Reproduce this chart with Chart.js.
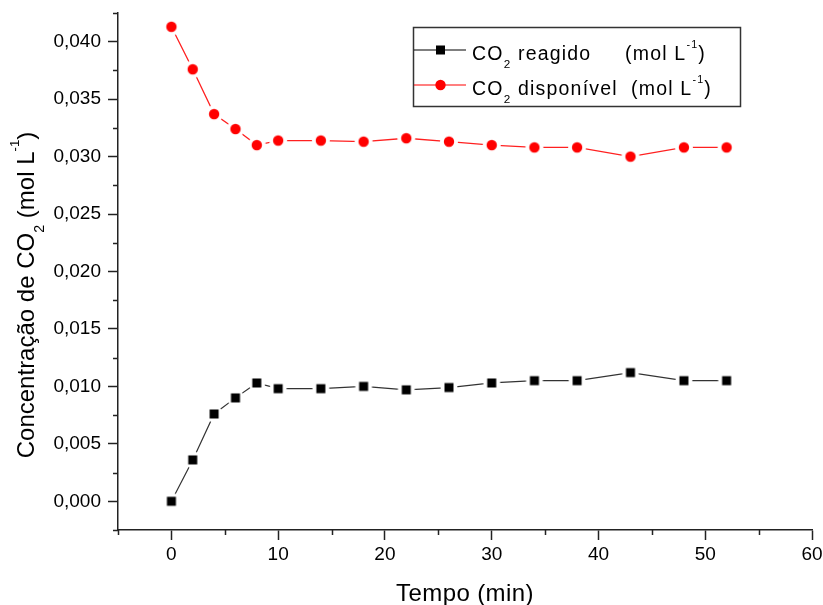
<!DOCTYPE html>
<html>
<head>
<meta charset="utf-8">
<script src="https://cdn.jsdelivr.net/npm/chart.js@4.4.1/dist/chart.umd.min.js"></script>
<style>
  body { margin: 0; background: #fff; }
  #chartBox { width: 823px; height: 605px; }
</style>
</head>
<body>
<div id="chartBox"><canvas id="myChart" width="823" height="605"></canvas></div>
<script>
// data
const tempo = [0, 2, 4, 6, 8, 10, 14, 18, 22, 26, 30, 34, 38, 43, 48, 52];
const co2Reagido = [0.0000, 0.0036, 0.0076, 0.0090, 0.0103, 0.0098, 0.0098, 0.0100, 0.0097, 0.0099, 0.0103, 0.0105, 0.0105, 0.0112, 0.0105, 0.0105];
const co2Disponivel = [0.0413, 0.0376, 0.0337, 0.0324, 0.0310, 0.0314, 0.0314, 0.0313, 0.0316, 0.0313, 0.0310, 0.0308, 0.0308, 0.0300, 0.0308, 0.0308];

const xTicks = [0, 10, 20, 30, 40, 50, 60];
const xMinorTicks = [-5, 5, 15, 25, 35, 45, 55];
const yTicks = [0, 0.005, 0.010, 0.015, 0.020, 0.025, 0.030, 0.035, 0.040];
const yMinorTicks = [-0.0025, 0.0025, 0.0075, 0.0125, 0.0175, 0.0225, 0.0275, 0.0325, 0.0375, 0.0425];

const FONT = "'Liberation Sans', Arial, sans-serif";
const AXIS = '#222';

// marker with a white halo so the line stops short of it
const makeMarker = (shape, color, halo) => {
    const c = document.createElement('canvas');
    c.width = 20; c.height = 20;
    const ctx = c.getContext('2d');
    ctx.fillStyle = '#fff';
    ctx.beginPath(); ctx.arc(10, 10, halo, 0, Math.PI * 2); ctx.fill();
    ctx.fillStyle = color;
    if (shape === 'square') {
        ctx.fillRect(5.5, 5.5, 9, 9);
    } else {
        ctx.beginPath(); ctx.arc(10, 10, 5.2, 0, Math.PI * 2); ctx.fill();
    }
    return c;
}

const squareMark = makeMarker('square', '#000', 8.5);
const circleMark = makeMarker('circle', '#ff0000', 9);

const richWidth = (ctx, parts, size) => {
    let w = 0;
    parts.forEach(p => {
        const fs = p.sub ? size * 0.6 : p.sup ? size * 0.55 : size;
        ctx.font = fs + 'px ' + FONT;
        w += ctx.measureText(p.t).width;
    });
    return w;
}

const drawRich = (ctx, parts, x, y, size) => {
    parts.forEach(p => {
        let fs = size, dy = 0;
        if (p.sub) { fs = size * 0.6; dy = size * 0.42; }
        if (p.sup) { fs = size * 0.55; dy = -size * 0.62; }
        ctx.font = fs + 'px ' + FONT;
        ctx.fillText(p.t, x, y + dy);
        x += ctx.measureText(p.t).width;
    });
    return x;
}

const extras = {
    id: 'extras',
    afterDraw(chart) {
        const ctx = chart.ctx;
        const xs = chart.scales.x, ys = chart.scales.y;
        const area = chart.chartArea;
        ctx.save();

        // minor ticks
        ctx.strokeStyle = AXIS;
        ctx.lineWidth = 1.5;
        ctx.beginPath();
        xMinorTicks.forEach(v => {
            const px = Math.round(xs.getPixelForValue(v)) + 0.5;
            ctx.moveTo(px, area.bottom); ctx.lineTo(px, area.bottom + 5);
        });
        yMinorTicks.forEach(v => {
            const py = Math.round(ys.getPixelForValue(v)) + 0.5;
            ctx.moveTo(area.left, py); ctx.lineTo(area.left - 5, py);
        });
        ctx.stroke();

        ctx.fillStyle = '#000';
        ctx.textBaseline = 'alphabetic';
        ctx.textAlign = 'left';

        // x title
        ctx.letterSpacing = '0.4px';
        const xt = [{ t: 'Tempo (min)' }];
        const xw = richWidth(ctx, xt, 24);
        drawRich(ctx, xt, (area.left + area.right) / 2 - xw / 2, 601, 24);
        ctx.letterSpacing = '0px';

        // y title
        const yt = [{ t: 'Concentração de CO' }, { t: '2', sub: true }, { t: ' (mol L' }, { t: '-1', sup: true }, { t: ')' }];
        const yw = richWidth(ctx, yt, 24);
        ctx.save();
        ctx.translate(34, 295);
        ctx.rotate(-Math.PI / 2);
        drawRich(ctx, yt, -yw / 2, 0, 24);
        ctx.restore();

        // legend
        ctx.strokeStyle = '#333';
        ctx.lineWidth = 1.5;
        ctx.strokeRect(413.5, 27.5, 327, 79);

        const rows = [
            { y: 50, color: '#000', mark: 'square', name: ' reagido', unitX: 625 },
            { y: 85, color: '#ff0000', mark: 'circle', name: ' disponível', unitX: 631 }
        ];
        rows.forEach(r => {
            ctx.strokeStyle = r.color;
            ctx.lineWidth = 1.2;
            ctx.beginPath(); ctx.moveTo(414, r.y); ctx.lineTo(466, r.y); ctx.stroke();
            ctx.fillStyle = r.color;
            if (r.mark === 'square') {
                ctx.fillRect(436, r.y - 4.5, 9, 9);
            } else {
                ctx.beginPath(); ctx.arc(440.5, r.y, 5.2, 0, Math.PI * 2); ctx.fill();
            }
            ctx.fillStyle = '#000';
            ctx.letterSpacing = '1.2px';
            drawRich(ctx, [{ t: 'CO' }, { t: '2', sub: true }, { t: r.name }], 472, r.y + 10, 19.5);
            drawRich(ctx, [{ t: '(mol L' }, { t: '-1', sup: true }, { t: ')' }], r.unitX, r.y + 10, 19.5);
            ctx.letterSpacing = '0px';
        });

        ctx.restore();
    }
};

const toPoints = (xs, ys) => xs.map((x, i) => ({ x: x, y: ys[i] }));

new Chart(document.getElementById('myChart'), {
    type: 'line',
    data: {
        datasets: [
            {
                label: 'CO2 reagido (mol L-1)',
                data: toPoints(tempo, co2Reagido),
                borderColor: '#333',
                borderWidth: 1.2,
                pointStyle: squareMark,
                pointRadius: 6,
                tension: 0
            },
            {
                label: 'CO2 disponível (mol L-1)',
                data: toPoints(tempo, co2Disponivel),
                borderColor: '#ff2020',
                borderWidth: 1.3,
                pointStyle: circleMark,
                pointRadius: 6,
                tension: 0
            }
        ]
    },
    options: {
        responsive: false,
        animation: false,
        layout: { padding: { top: 13, right: 11, left: 0, bottom: 0 } },
        plugins: { legend: { display: false }, tooltip: { enabled: false } },
        scales: {
            x: {
                type: 'linear',
                min: -5,
                max: 60,
                afterBuildTicks: (scale) => { scale.ticks = xTicks.map(v => ({ value: v })); },
                afterFit: (scale) => {
                    scale.height = 75;
                    scale.paddingLeft = 0; scale.paddingRight = 0;
                },
                ticks: {
                    color: '#000',
                    font: { family: FONT, size: 19 },
                    padding: 3,
                    maxRotation: 0,
                    callback: (v) => String(v)
                },
                grid: { drawOnChartArea: false, drawTicks: true, tickLength: 10, tickColor: AXIS, tickWidth: 1.5 },
                border: { display: true, color: AXIS, width: 1.5 }
            },
            y: {
                type: 'linear',
                min: -0.0025,
                max: 0.0425,
                afterBuildTicks: (scale) => { scale.ticks = yTicks.map(v => ({ value: v })); },
                afterFit: (scale) => {
                    scale.width = 118;
                    scale.paddingTop = 0; scale.paddingBottom = 0;
                },
                ticks: {
                    color: '#000',
                    font: { family: FONT, size: 19 },
                    padding: 7,
                    callback: (v) => v.toFixed(3).replace('.', ',')
                },
                grid: { drawOnChartArea: false, drawTicks: true, tickLength: 10, tickColor: AXIS, tickWidth: 1.5 },
                border: { display: true, color: AXIS, width: 1.5 }
            }
        }
    },
    plugins: [extras]
});
</script>
</body>
</html>
